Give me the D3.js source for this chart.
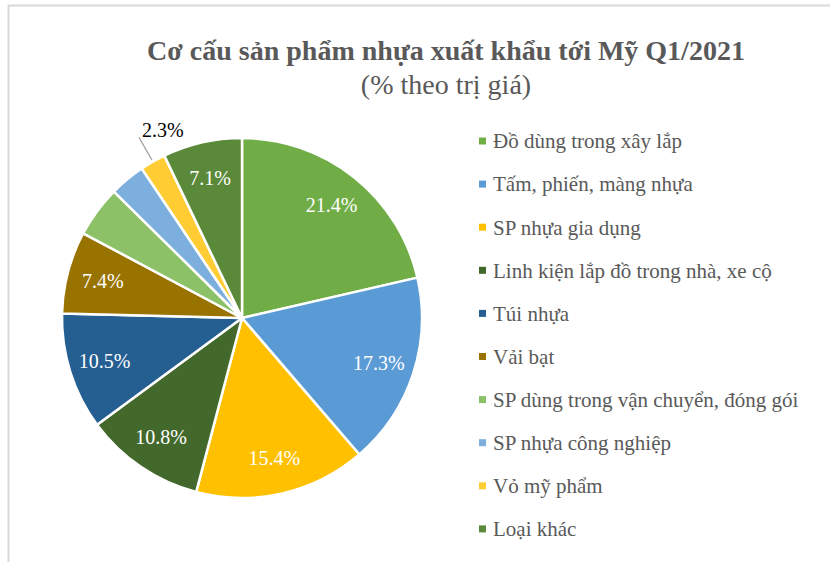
<!DOCTYPE html>
<html>
<head>
<meta charset="utf-8">
<script src="https://cdn.jsdelivr.net/npm/d3@7"></script>
<style>
  body { margin: 0; background: #fff; }
  svg text { font-family: "Liberation Serif", "Times New Roman", Times, "DejaVu Serif", serif; }
</style>
</head>
<body>
<div id="chart-area"></div>
<script>
// data
var categories = ["Đồ dùng trong xây lắp", "Tấm, phiến, màng nhựa", "SP nhựa gia dụng",
    "Linh kiện lắp đồ trong nhà, xe cộ", "Túi nhựa", "Vải bạt",
    "SP dùng trong vận chuyển, đóng gói", "SP nhựa công nghiệp", "Vỏ mỹ phẩm", "Loại khác"];
var values = [21.4, 17.3, 15.4, 10.8, 10.5, 7.4, 4.6, 3.2, 2.3, 7.1];
var showLabel = [true, true, true, true, true, true, false, false, true, true];
var colors = ["#70AD47", "#5B9BD5", "#FFC000", "#43682B", "#255E91",
    "#997300", "#8CC168", "#7CAFDD", "#FFCD33", "#5A8A39"];

var width = 830, height = 562;
var cx = 242, cy = 318, radius = 180;

var svg = d3.select("#chart-area").append("svg")
    .attr("width", width)
    .attr("height", height)
    .style("display", "block");

// chart frame
svg.append("rect")
    .attr("x", 8.5)
    .attr("y", 5.5)
    .attr("width", 840)
    .attr("height", 580)
    .attr("fill", "none")
    .attr("stroke", "#d9d9d9")
    .attr("stroke-width", 2);

// titles
svg.append("text")
    .attr("x", 446)
    .attr("y", 60)
    .attr("text-anchor", "middle")
    .attr("font-size", 28)
    .attr("font-weight", "bold")
    .attr("fill", "#595959")
    .text("Cơ cấu sản phẩm nhựa xuất khẩu tới Mỹ Q1/2021");

svg.append("text")
    .attr("x", 446)
    .attr("y", 94)
    .attr("text-anchor", "middle")
    .attr("font-size", 28)
    .attr("fill", "#595959")
    .text("(% theo trị giá)");

var pie = d3.pie().sort(null).value(function(d) { return d; });
var arcs = pie(values);

var arc = d3.arc().innerRadius(0).outerRadius(radius);
var labelArc = d3.arc().innerRadius(radius * 0.8).outerRadius(radius * 0.8);

var g = svg.append("g")
    .attr("transform", "translate(" + cx + "," + cy + ")");

g.selectAll("path")
    .data(arcs)
    .enter()
    .append("path")
    .attr("d", arc)
    .attr("fill", function(d, i) { return colors[i]; })
    .attr("stroke", "#fff")
    .attr("stroke-width", 2.5)
    .attr("stroke-linejoin", "round");

var fmt = function(v) { return d3.format(".1f")(v) + "%"; };

// inside labels (the small 2.3% slice gets a leader line)
arcs.forEach(function(d, i) {
    if (!showLabel[i]) return;
    if (values[i] < 3) {
        var mid = (d.startAngle + d.endAngle) / 2;
        var p0 = [Math.sin(mid) * (radius + 2), -Math.cos(mid) * (radius + 2)];
        var p1 = [Math.sin(mid) * (radius + 28), -Math.cos(mid) * (radius + 28)];
        g.append("line")
            .attr("x1", p0[0]).attr("y1", p0[1])
            .attr("x2", p1[0]).attr("y2", p1[1])
            .attr("stroke", "#a6a6a6")
            .attr("stroke-width", 1.3);
        g.append("text")
            .attr("x", p1[0] + 3)
            .attr("y", p1[1])
            .attr("font-size", 20)
            .attr("fill", "#000")
            .text(fmt(values[i]));
    } else {
        var c = labelArc.centroid(d);
        g.append("text")
            .attr("x", c[0])
            .attr("y", c[1])
            .attr("dy", "0.35em")
            .attr("text-anchor", "middle")
            .attr("font-size", 20)
            .attr("fill", "#fff")
            .text(fmt(values[i]));
    }
});

// legend
var legend = svg.append("g")
    .attr("transform", "translate(479,141)");

var row = legend.selectAll(".legend-row")
    .data(categories)
    .enter()
    .append("g")
    .attr("class", "legend-row")
    .attr("transform", function(d, i) { return "translate(0," + (i * 43.1) + ")"; });

row.append("rect")
    .attr("x", 0)
    .attr("y", -3.5)
    .attr("width", 7)
    .attr("height", 7)
    .attr("fill", function(d, i) { return colors[i]; });

row.append("text")
    .attr("x", 14)
    .attr("dy", "0.35em")
    .attr("font-size", 21)
    .attr("fill", "#595959")
    .text(function(d) { return d; });
</script>
</body>
</html>
